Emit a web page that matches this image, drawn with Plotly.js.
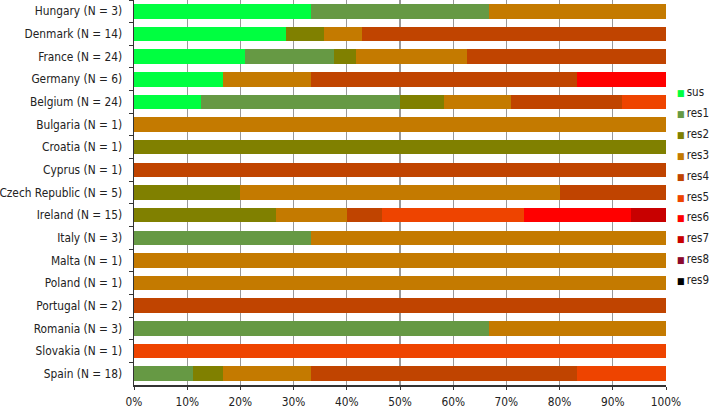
<!DOCTYPE html>
<html>
<head>
<meta charset="utf-8">
<script src="https://cdn.plot.ly/plotly-3.0.1.min.js"></script>
<style>html,body{margin:0;padding:0;background:#fff;}#chart{width:709px;height:408px;}</style>
</head>
<body>
<div id="chart"></div>
<script>
var countries = ["Hungary","Denmark","France","Germany","Belgium","Bulgaria","Croatia","Cyprus","Czech Republic","Ireland","Italy","Malta","Poland","Portugal","Romania","Slovakia","Spain"];
var N =          [3,14,24,6,24,1,1,1,5,15,3,1,1,2,3,1,18];
var sus  = [1,4,5,1,3,0,0,0,0,0,0,0,0,0,0,0,0];
var res1 = [1,0,4,0,9,0,0,0,0,0,1,0,0,0,2,0,2];
var res2 = [0,1,1,0,2,0,1,0,1,4,0,0,0,0,0,0,1];
var res3 = [1,1,5,1,3,1,0,0,3,2,2,1,1,0,1,0,3];
var res4 = [0,8,9,3,5,0,0,1,1,1,0,0,0,2,0,0,9];
var res5 = [0,0,0,0,2,0,0,0,0,4,0,0,0,0,0,1,3];
var res6 = [0,0,0,1,0,0,0,0,0,3,0,0,0,0,0,0,0];
var res7 = [0,0,0,0,0,0,0,0,0,1,0,0,0,0,0,0,0];
var res8 = [0,0,0,0,0,0,0,0,0,0,0,0,0,0,0,0,0];
var res9 = [0,0,0,0,0,0,0,0,0,0,0,0,0,0,0,0,0];
var seriesNames = ["sus","res1","res2","res3","res4","res5","res6","res7","res8","res9"];
var seriesColors = ["#00FF40","#669944","#808000","#C47A00","#C04400","#EE4400","#FF0000","#C80000","#8B0A2E","#000000"];
var xTickVals = [0,10,20,30,40,50,60,70,80,90,100];

var seriesData = [sus,res1,res2,res3,res4,res5,res6,res7,res8,res9];
var labels = countries.map(function(c,i){ return c + " (N = " + N[i] + ")"; });

var FONT = "DejaVu Sans Condensed, DejaVu Sans, sans-serif";

var traces = seriesData.map(function(arr, k){
  return {
    type: "bar",
    orientation: "h",
    name: seriesNames[k],
    y: labels,
    x: arr.map(function(v,i){ return v / N[i] * 100; }),
    marker: {color: seriesColors[k], line: {width: 0}},
    hoverinfo: "name+x"
  };
});

// legend built as annotations
var plotTop = 0, plotH = 385;
var annotations = seriesNames.map(function(n,k){
  var py = 92 + 20.9 * k;
  return {
    xref: "paper", yref: "paper",
    x: (675 - 134) / 532, y: 1 - (py - plotTop) / plotH,
    xanchor: "left", yanchor: "middle",
    showarrow: false,
    align: "left",
    text: "<span style='color:" + seriesColors[k] + ";font-size:9px'>■</span>\u2009" + n,
    font: {family: FONT, size: 11.5, color: "#222"}
  };
});

var layout = {
  width: 709, height: 408,
  margin: {l: 134, r: 43, t: 0, b: 23, pad: 0},
  paper_bgcolor: "#fff", plot_bgcolor: "#fff",
  barmode: "stack",
  bargap: 0.36,
  showlegend: false,
  font: {family: FONT, size: 11.8, color: "#222"},
  xaxis: {
    range: [0, 100],
    tickvals: xTickVals,
    ticktext: xTickVals.map(function(v){ return v + "%"; }),
    showgrid: true, gridcolor: "#999999", gridwidth: 1.3,
    showline: true, linecolor: "#333", linewidth: 1.5,
    ticks: "outside", ticklen: 3, tickcolor: "#333",
    ticklabelstandoff: 2,
    zeroline: false, fixedrange: true
  },
  yaxis: {
    type: "category",
    autorange: "reversed",
    tickson: "boundaries",
    showgrid: false,
    showline: true, linecolor: "#333", linewidth: 1.5,
    ticks: "outside", ticklen: 4, tickcolor: "#333",
    ticklabelstandoff: 8,
    zeroline: false, fixedrange: true
  },
  annotations: annotations
};

Plotly.newPlot("chart", traces, layout, {displayModeBar: false, staticPlot: true});
</script>
</body>
</html>
